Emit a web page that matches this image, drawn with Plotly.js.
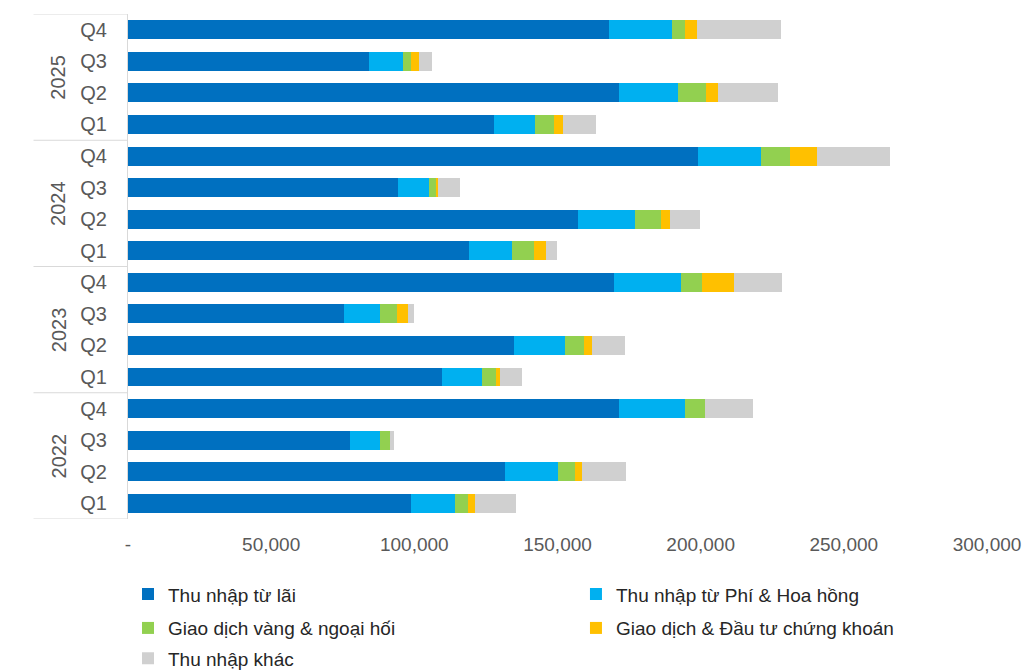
<!DOCTYPE html>
<html>
<head>
<meta charset="utf-8">
<script src="https://cdn.plot.ly/plotly-3.0.1.min.js"></script>
<style>
  html, body { margin: 0; padding: 0; background: #fff; }
  #myDiv { width: 1027px; height: 672px; }
</style>
</head>
<body>
<div id="myDiv"></div>
<script>
// years / quarters, bottom to top (2022 Q1 ... 2025 Q4)
const years = ['2022', '2023', '2024', '2025'];
const quarters = ['Q1', 'Q2', 'Q3', 'Q4'];

// values (same order as above)
const interestIncome = [98800, 131600, 77500, 171400,
                        109600, 134700, 75400, 169600,
                        119000, 157100, 94200, 199000,
                        127800, 171500, 84200, 168100];
const feeIncome = [15400, 18500, 10500, 23000,
                   14000, 17800, 12600, 23400,
                   15000, 19900, 10800, 22000,
                   14300, 20600, 11900, 21900];
const goldFx = [4500, 5900, 3500, 7000,
                4900, 6600, 5900, 7300,
                7700, 9100, 2400, 10100,
                6600, 9800, 2800, 4550];
const securities = [2400, 2400, 0, 200,
                    1400, 3100, 3800, 11200,
                    4200, 3100, 1000, 9400,
                    3100, 4200, 2800, 4200];
const otherIncome = [14300, 15400, 1400, 16800,
                     7700, 11200, 2100, 16800,
                     3800, 10500, 7700, 25500,
                     11500, 20900, 4500, 29400];

const seriesNames = ['Thu nhập từ lãi', 'Thu nhập từ Phí & Hoa hồng',
                     'Giao dịch vàng & ngoại hối', 'Giao dịch & Đầu tư chứng khoán',
                     'Thu nhập khác'];
const seriesColors = ['#0070C0', '#00B0F0', '#92D050', '#FFC000', '#D0D0D0'];
const xTickVals = [0, 50000, 100000, 150000, 200000, 250000, 300000];
const xTickText = ['-', '50,000', '100,000', '150,000', '200,000', '250,000', '300,000'];

let cats = [];
let catText = [];
years.forEach(y => quarters.forEach(q => { cats.push(y + ' ' + q); catText.push(q); }));

const allSeries = [interestIncome, feeIncome, goldFx, securities, otherIncome];
const sans = 'Liberation Sans, Arial, sans-serif';
const legendIds = ['legend', 'legend2', 'legend3', 'legend4', 'legend5'];

var data = allSeries.map(function (vals, i) {
  return {
    type: 'bar',
    orientation: 'h',
    y: cats,
    x: vals,
    name: seriesNames[i],
    legend: legendIds[i],
    marker: { color: seriesColors[i], line: { width: 0 } },
    hoverinfo: 'x+name'
  };
});

// year labels and divider lines of the category block
var annotations = years.map(function (y, k) {
  return {
    xref: 'paper', yref: 'y',
    x: -0.096, y: 4 * k + 1.5,
    text: y, textangle: -90, showarrow: false,
    font: { family: sans, size: 20, color: '#595959' }
  };
});
var shapes = [];
for (let k = 0; k <= years.length; k++) {
  shapes.push({
    type: 'line', xref: 'paper', yref: 'y',
    x0: -0.110, x1: 0, y0: 4 * k - 0.5, y1: 4 * k - 0.5,
    line: { color: '#D9D9D9', width: 1 }
  });
}

// two-column legend: one small legend per entry
function legendBox(x, y) {
  return {
    orientation: 'h',
    x: x, xanchor: 'left',
    y: y, yanchor: 'middle',
    bgcolor: 'rgba(0,0,0,0)',
    font: { family: sans, size: 19, color: '#262626' }
  };
}

var layout = {
  width: 1027,
  height: 672,
  margin: { l: 128, r: 40, t: 14, b: 153, autoexpand: false },
  paper_bgcolor: '#ffffff',
  plot_bgcolor: '#ffffff',
  barmode: 'stack',
  bargap: 0.4,
  showlegend: true,
  legend: legendBox(0, -0.149),
  legend2: legendBox(0.5215, -0.149),
  legend3: legendBox(0, -0.216),
  legend4: legendBox(0.5215, -0.216),
  legend5: legendBox(0, -0.276),
  xaxis: {
    range: [0, 300000],
    showgrid: false,
    zeroline: false,
    showline: false,
    tickvals: xTickVals,
    ticktext: xTickText,
    ticklabelstandoff: 12,
    tickfont: { family: sans, size: 19, color: '#595959' }
  },
  yaxis: {
    type: 'category',
    categoryorder: 'array',
    categoryarray: cats,
    tickvals: cats,
    ticktext: catText,
    range: [-0.5, cats.length - 0.5],
    showgrid: false,
    zeroline: false,
    showline: true,
    linecolor: '#D9D9D9',
    linewidth: 1,
    ticks: '',
    ticklabelstandoff: 16,
    tickfont: { family: sans, size: 20, color: '#595959' }
  },
  annotations: annotations,
  shapes: shapes
};

Plotly.newPlot('myDiv', data, layout, { displayModeBar: false, staticPlot: true });
</script>
</body>
</html>
